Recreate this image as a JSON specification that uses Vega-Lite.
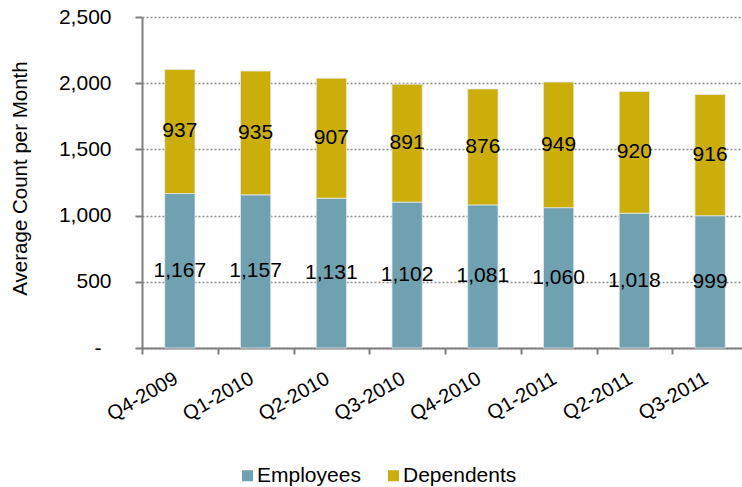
{
  "$schema": "https://vega.github.io/schema/vega-lite/v6.json",
  "autosize": "none",
  "width": 600,
  "height": 331,
  "padding": {"left": 142, "top": 17, "right": 0, "bottom": 139},
  "config": {"font": "Liberation Sans", "view": {"stroke": null}},
  "data": {
    "values": [
      {"quarter": "Q4-2009", "group": "Employees", "count": 1167},
      {"quarter": "Q4-2009", "group": "Dependents", "count": 937},
      {"quarter": "Q1-2010", "group": "Employees", "count": 1157},
      {"quarter": "Q1-2010", "group": "Dependents", "count": 935},
      {"quarter": "Q2-2010", "group": "Employees", "count": 1131},
      {"quarter": "Q2-2010", "group": "Dependents", "count": 907},
      {"quarter": "Q3-2010", "group": "Employees", "count": 1102},
      {"quarter": "Q3-2010", "group": "Dependents", "count": 891},
      {"quarter": "Q4-2010", "group": "Employees", "count": 1081},
      {"quarter": "Q4-2010", "group": "Dependents", "count": 876},
      {"quarter": "Q1-2011", "group": "Employees", "count": 1060},
      {"quarter": "Q1-2011", "group": "Dependents", "count": 949},
      {"quarter": "Q2-2011", "group": "Employees", "count": 1018},
      {"quarter": "Q2-2011", "group": "Dependents", "count": 920},
      {"quarter": "Q3-2011", "group": "Employees", "count": 999},
      {"quarter": "Q3-2011", "group": "Dependents", "count": 916}
    ]
  },
  "transform": [
    {"stack": "count", "groupby": ["quarter"], "sort": [{"field": "group", "order": "descending"}], "as": ["y0", "y1"]},
    {"calculate": "(datum.y0 + datum.y1) / 2", "as": "mid"}
  ],
  "encoding": {
    "x": {
      "field": "quarter",
      "type": "nominal",
      "sort": ["Q4-2009", "Q1-2010", "Q2-2010", "Q3-2010", "Q4-2010", "Q1-2011", "Q2-2011", "Q3-2011"],
      "scale": {"range": [0, 606], "paddingInner": 0, "paddingOuter": 0},
      "axis": {
        "title": null,
        "labelAngle": -30,
        "labelFontSize": 20,
        "labelColor": "#000000",
        "labelPadding": 14,
        "labelOffset": -9,
        "tickBand": "extent",
        "tickSize": 6,
        "tickWidth": 2,
        "tickColor": "#7f7f7f",
        "domainColor": "#7f7f7f",
        "domainWidth": 2,
        "grid": false
      }
    }
  },
  "layer": [
    {
      "mark": {"type": "bar", "width": {"band": 0.4}, "stroke": "#e3eaec", "strokeWidth": 0.8},
      "encoding": {
        "y": {
          "field": "y0",
          "type": "quantitative",
          "scale": {"domain": [0, 2500], "nice": false},
          "axis": {
            "title": "Average Count per Month",
            "titleFontSize": 20.5,
            "titleFontWeight": "normal",
            "titleColor": "#000000",
            "titlePadding": 28,
            "titleY": 161,
            "values": [0, 500, 1000, 1500, 2000, 2500],
            "labelExpr": "datum.value == 0 ? '-' : format(datum.value, ',')",
            "labelFontSize": 21,
            "labelColor": "#000000",
            "labelPadding": {"condition": {"test": "datum.value == 0", "value": 34}, "value": 24},
            "labelOverlap": false,
            "tickSize": 7,
            "tickWidth": 2,
            "tickColor": "#7f7f7f",
            "domainColor": "#7f7f7f",
            "domainWidth": 2,
            "gridColor": "#8c8c8c",
            "gridDash": [2, 2],
            "gridWidth": 1.5
          }
        },
        "y2": {"field": "y1"},
        "color": {
          "field": "group",
          "type": "nominal",
          "scale": {"domain": ["Employees", "Dependents"], "range": ["#6FA1B0", "#CBAE0A"]},
          "legend": {
            "title": null,
            "orient": "none",
            "direction": "horizontal",
            "legendX": 95,
            "legendY": 448,
            "padding": 0,
            "symbolType": "square",
            "symbolSize": 121,
            "symbolStrokeWidth": 0,
            "symbolOpacity": 1,
            "labelFontSize": 21,
            "labelColor": "#000000",
            "labelOffset": -1,
            "columnPadding": 22
          }
        }
      }
    },
    {
      "mark": {"type": "text", "fontSize": 21, "color": "#000000", "baseline": "middle"},
      "encoding": {
        "y": {"field": "mid", "type": "quantitative"},
        "text": {"field": "count", "type": "quantitative", "format": ","}
      }
    }
  ]
}
